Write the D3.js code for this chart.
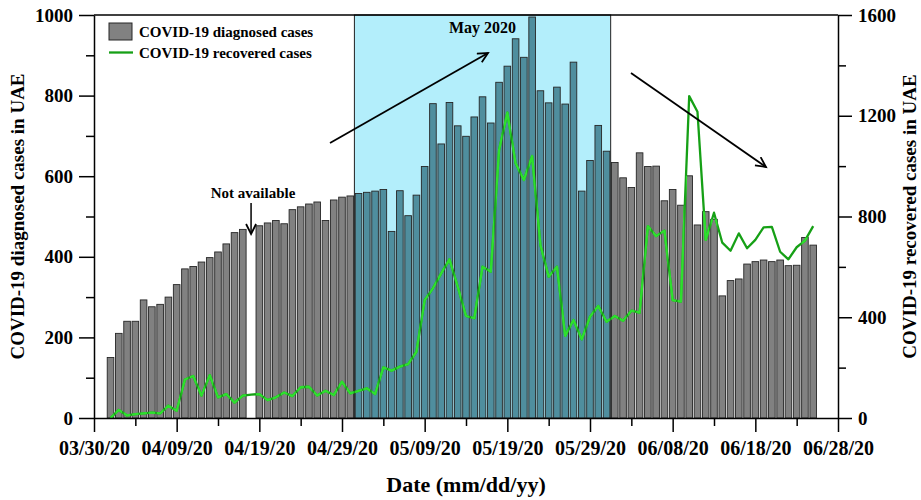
<!DOCTYPE html>
<html>
<head>
<meta charset="utf-8">
<script src="https://cdn.jsdelivr.net/npm/d3@7"></script>
<style>
  body { margin: 0; background: #fff; }
  svg text { font-family: "Liberation Serif", "Times New Roman", serif; font-weight: bold; }
</style>
</head>
<body>
<script>
var WIDTH = 921, HEIGHT = 500

// daily diagnosed cases, 04/01/20 .. 06/25/20 (04/18 not available)
var aprilCases = [150, 210, 240, 240, 293, 276, 282, 300, 331, 370, 376, 387, 398, 412, 432, 460, 468, null,
                  477, 484, 490, 482, 517, 524, 531, 536, 490, 541, 548, 551]
var mayCases = [557, 560, 563, 567, 463, 564, 502, 553, 624, 780, 680, 783, 725, 699, 747, 797, 732, 833, 873,
                941, 895, 995, 812, 782, 821, 779, 883, 563, 639, 726, 662]
var juneCases = [634, 596, 572, 658, 624, 625, 539, 567, 528, 601, 479, 512, 493, 303, 341, 345, 382, 388, 392,
                 388, 392, 378, 379, 448, 429]

// daily recovered cases, same days
var aprilRecovered = [0, 32, 10, 15, 18, 21, 18, 49, 29, 153, 167, 89, 170, 82, 95, 61, 89, 93, 95, 71, 82, 101,
                      87, 122, 124, 89, 108, 91, 144, 98]
var mayRecovered = [108, 118, 95, 201, 188, 204, 214, 263, 468, 515, 574, 630, 521, 405, 396, 601, 581, 1064,
                    1212, 1011, 945, 1040, 687, 561, 601, 326, 389, 312, 402, 445, 382]
var juneRecovered = [405, 386, 426, 418, 762, 722, 744, 468, 462, 1278, 1216, 707, 815, 696, 664, 733, 674, 707,
                     757, 759, 660, 630, 678, 704, 762]

var xTickLabels = ['03/30/20', '04/09/20', '04/19/20', '04/29/20', '05/09/20', '05/19/20', '05/29/20',
                   '06/08/20', '06/18/20', '06/28/20']
var leftTicks = [0, 200, 400, 600, 800, 1000]
var rightTicks = [0, 400, 800, 1200, 1600]

var parse = d3.utcParse('%m/%d/%y')
var firstDay = Date.UTC(2020, 3, 1)
var cases = aprilCases.concat(mayCases, juneCases)
var recovered = aprilRecovered.concat(mayRecovered, juneRecovered)
var days = cases.map(function(d, i){ return d3.utcDay.offset(new Date(firstDay), i) })
var rows = days.map(function(d, i){ return {date: d, cases: cases[i], rec: recovered[i]} })

var pL = 94, pR = 838, pT = 15, pB = 418

var x = d3.scaleUtc()
	.domain([parse(xTickLabels[0]), parse(xTickLabels[xTickLabels.length - 1])])
	.range([pL, pR])
var dayW = x(d3.utcDay.offset(x.domain()[0], 1)) - x(x.domain()[0])
var yL = d3.scaleLinear().domain([0, 1000]).range([pB, pT])
var yR = d3.scaleLinear().domain([0, 1600]).range([pB, pT])

var svg = d3.select('body').append('svg')
	.attr('width', WIDTH)
	.attr('height', HEIGHT)

var defs = svg.append('defs')
defs.append('marker')
	.attr('id', 'arrow')
	.attr('markerUnits', 'userSpaceOnUse')
	.attr('markerWidth', 14).attr('markerHeight', 14)
	.attr('refX', 11).attr('refY', 6)
	.attr('orient', 'auto')
	.append('path')
	.attr('d', 'M1,1 L11,6 L1,11')
	.attr('fill', 'none')
	.attr('stroke', '#000')
	.attr('stroke-width', 1.8)

// May 2020 highlight box
var mayStart = parse('05/01/20'), mayEnd = parse('05/31/20')
svg.append('rect')
	.attr('x', x(mayStart) - dayW / 2)
	.attr('y', pT)
	.attr('width', x(mayEnd) - x(mayStart) + dayW)
	.attr('height', pB - pT)
	.attr('fill', '#b3eefb')
	.attr('stroke', '#222')
	.attr('stroke-width', 1)

var barW = dayW * 0.8
var isMay = function(d){ return d.date.getUTCMonth() === 4 }
var present = rows.filter(function(d){ return d.cases !== null })

svg.append('g').selectAll('rect').data(present)
	.enter().append('rect')
	.attr('x', function(d){ return x(d.date) - barW / 2 })
	.attr('y', function(d){ return yL(d.cases) })
	.attr('width', barW)
	.attr('height', function(d){ return pB - yL(d.cases) })
	.attr('fill', function(d){ return isMay(d) ? '#4f8e9e' : '#818181' })
	.attr('stroke', '#262626')
	.attr('stroke-width', 0.9)

defs.append('clipPath').attr('id', 'barclip')
	.selectAll('rect').data(present)
	.enter().append('rect')
	.attr('x', function(d){ return x(d.date) - barW / 2 })
	.attr('y', function(d){ return yL(d.cases) })
	.attr('width', barW)
	.attr('height', function(d){ return pB - yL(d.cases) })

var line = d3.line()
	.x(function(d){ return x(d.date) })
	.y(function(d){ return yR(d.rec) })

svg.append('path').datum(rows)
	.attr('d', line)
	.attr('fill', 'none')
	.attr('stroke', '#16a016')
	.attr('stroke-width', 2.3)
	.attr('stroke-linejoin', 'round')
svg.append('path').datum(rows)
	.attr('d', line)
	.attr('clip-path', 'url(#barclip)')
	.attr('fill', 'none')
	.attr('stroke', '#2ee02e')
	.attr('stroke-width', 2.3)
	.attr('stroke-linejoin', 'round')

// frame top
svg.append('line')
	.attr('x1', pL).attr('x2', pR).attr('y1', pT).attr('y2', pT)
	.attr('stroke', '#000').attr('stroke-width', 1.5)

// axes
var majorDays = xTickLabels.map(parse)
var minorDays = majorDays.slice(0, -1).map(function(d){ return d3.utcDay.offset(d, 5) })

function styleAxis(g, size){
	g.selectAll('path.domain').attr('stroke', '#000').attr('stroke-width', 1.5)
	g.selectAll('.tick line').attr('stroke', '#000').attr('stroke-width', 1.5)
	g.selectAll('text').attr('fill', '#000').style('font-size', size + 'px')
}

var xAxis = svg.append('g').attr('transform', 'translate(0,' + pB + ')')
	.call(d3.axisBottom(x).tickValues(majorDays).tickSize(14).tickSizeOuter(0).tickPadding(9)
		.tickFormat(d3.utcFormat('%m/%d/%y')))
styleAxis(xAxis, 20)
var xMinor = svg.append('g').attr('transform', 'translate(0,' + pB + ')')
	.call(d3.axisBottom(x).tickValues(minorDays).tickSize(8).tickFormat(''))
xMinor.select('.domain').remove()
styleAxis(xMinor, 20)

var lAxis = svg.append('g').attr('transform', 'translate(' + pL + ',0)')
	.call(d3.axisLeft(yL).tickValues(leftTicks).tickSize(15).tickSizeOuter(0).tickPadding(6)
		.tickFormat(d3.format('d')))
styleAxis(lAxis, 19)
var lMinor = svg.append('g').attr('transform', 'translate(' + pL + ',0)')
	.call(d3.axisLeft(yL).tickValues([100, 300, 500, 700, 900]).tickSize(8).tickFormat(''))
lMinor.select('.domain').remove()
styleAxis(lMinor, 19)

var rAxis = svg.append('g').attr('transform', 'translate(' + pR + ',0)')
	.call(d3.axisRight(yR).tickValues(rightTicks).tickSize(14).tickSizeOuter(0).tickPadding(6)
		.tickFormat(d3.format('d')))
styleAxis(rAxis, 19)
var rMinor = svg.append('g').attr('transform', 'translate(' + pR + ',0)')
	.call(d3.axisRight(yR).tickValues([200, 600, 1000, 1400]).tickSize(8).tickFormat(''))
rMinor.select('.domain').remove()
styleAxis(rMinor, 19)

// titles
svg.append('text')
	.attr('transform', 'translate(24,' + ((pT + pB) / 2) + ') rotate(-90)')
	.attr('text-anchor', 'middle')
	.style('font-size', '19px')
	.text('COVID-19 diagnosed cases in UAE')
svg.append('text')
	.attr('transform', 'translate(916,' + ((pT + pB) / 2) + ') rotate(-90)')
	.attr('text-anchor', 'middle')
	.style('font-size', '19px')
	.text('COVID-19 recovered cases in UAE')
svg.append('text')
	.attr('x', (pL + pR) / 2).attr('y', 492)
	.attr('text-anchor', 'middle')
	.style('font-size', '22px')
	.text('Date (mm/dd/yy)')

// legend
var legend = svg.append('g')
legend.append('rect')
	.attr('x', 109).attr('y', 23).attr('width', 23).attr('height', 17)
	.attr('fill', '#818181').attr('stroke', '#262626').attr('stroke-width', 1)
legend.append('text').attr('x', 139).attr('y', 37).style('font-size', '15px')
	.text('COVID-19 diagnosed cases')
legend.append('line')
	.attr('x1', 109).attr('x2', 133).attr('y1', 52.5).attr('y2', 52.5)
	.attr('stroke', '#16a016').attr('stroke-width', 2.3)
legend.append('text').attr('x', 139).attr('y', 58).style('font-size', '15px')
	.text('COVID-19 recovered cases')

// annotations
svg.append('text')
	.attr('x', (x(mayStart) + x(mayEnd)) / 2).attr('y', 33)
	.attr('text-anchor', 'middle')
	.style('font-size', '16px')
	.text('May 2020')

var naDay = parse('04/18/20')
svg.append('text')
	.attr('x', x(naDay) + 2).attr('y', 198)
	.attr('text-anchor', 'middle')
	.style('font-size', '15px')
	.text('Not available')
svg.append('line')
	.attr('x1', x(naDay)).attr('x2', x(naDay)).attr('y1', 203).attr('y2', 234)
	.attr('stroke', '#000').attr('stroke-width', 1.5)
	.attr('marker-end', 'url(#arrow)')

svg.append('line')
	.attr('x1', 330).attr('y1', 143).attr('x2', 488).attr('y2', 53)
	.attr('stroke', '#000').attr('stroke-width', 1.8)
	.attr('marker-end', 'url(#arrow)')
svg.append('line')
	.attr('x1', 631).attr('y1', 73).attr('x2', 766).attr('y2', 167)
	.attr('stroke', '#000').attr('stroke-width', 1.8)
	.attr('marker-end', 'url(#arrow)')
</script>
</body>
</html>
